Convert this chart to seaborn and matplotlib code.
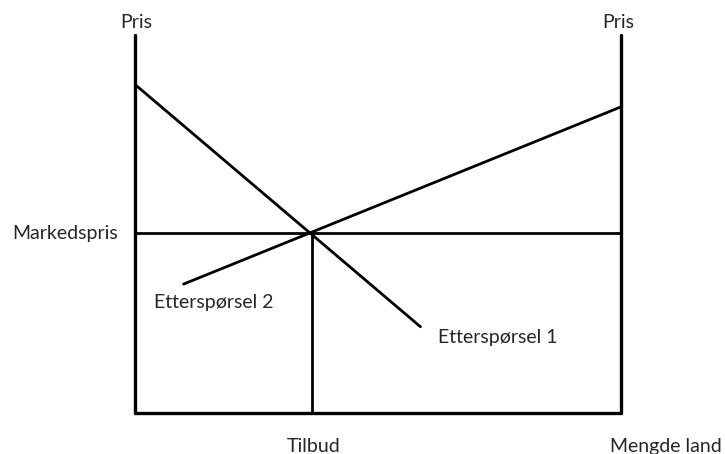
import numpy as np
import pandas as pd
import matplotlib
matplotlib.use('Agg')
import matplotlib.pyplot as plt
import seaborn as sns

# ── 데이터 (수량 0-100, 가격 0-100) ─────────────────────────
axis_top = 100.0
market_price = 47.5
supply_q = 36.3

demand1_q = [0.0, 58.7]
demand1_p = [86.8, 22.8]
demand2_q = [9.9, 100.0]
demand2_p = [34.1, 81.0]

labels_axis = ['Pris', 'Pris', 'Markedspris', 'Tilbud', 'Mengde land']
labels_curve = ['Etterspørsel 1', 'Etterspørsel 2']

# ── 그림 ────────────────────────────────────────────────────
sns.set_theme(style='white')
plt.rcParams['font.family'] = ['Lato', 'DejaVu Sans']

fig = plt.figure(figsize=(7.25, 4.54), dpi=100)
ax = fig.add_axes([0, 0, 1, 1])
ax.set_xlim(-27.9, 121.4)
ax.set_ylim(-10.85, 109.26)
ax.axis('off')

frame_lw = 2.4
line_lw = 2.0


def seg(xs, ys, lw):
    # estimator=None: 같은 x값이라도 집계하지 않고 그대로 선을 그림
    sns.lineplot(x=xs, y=ys, color='black', lw=lw, ax=ax,
                 sort=False, estimator=None, errorbar=None)


# 축 (양쪽 가격축 + 수량축)
seg([0, 0], [0, axis_top], frame_lw)
seg([100, 100], [0, axis_top], frame_lw)
seg([0, 100], [0, 0], frame_lw)

# 시장가격 / 공급
seg([0, 100], [market_price, market_price], line_lw)
seg([supply_q, supply_q], [0, market_price], line_lw)

# 수요곡선
seg(demand1_q, demand1_p, line_lw)
seg(demand2_q, demand2_p, line_lw)

fs = 14
ax.text(0.1, 101.9, labels_axis[0], ha='center', va='baseline', fontsize=fs)
ax.text(99.4, 101.9, labels_axis[1], ha='center', va='baseline', fontsize=fs)
ax.text(-3.6, 45.9, labels_axis[2], ha='right', va='baseline', fontsize=fs)
ax.text(36.6, -10.4, labels_axis[3], ha='center', va='baseline', fontsize=fs)
ax.text(97.7, -10.4, labels_axis[4], ha='left', va='baseline', fontsize=fs)
ax.text(62.3, 18.5, labels_curve[0], ha='left', va='baseline', fontsize=fs)
ax.text(3.8, 27.8, labels_curve[1], ha='left', va='baseline', fontsize=fs)

fig.savefig('out.png', dpi=100, facecolor='white')
